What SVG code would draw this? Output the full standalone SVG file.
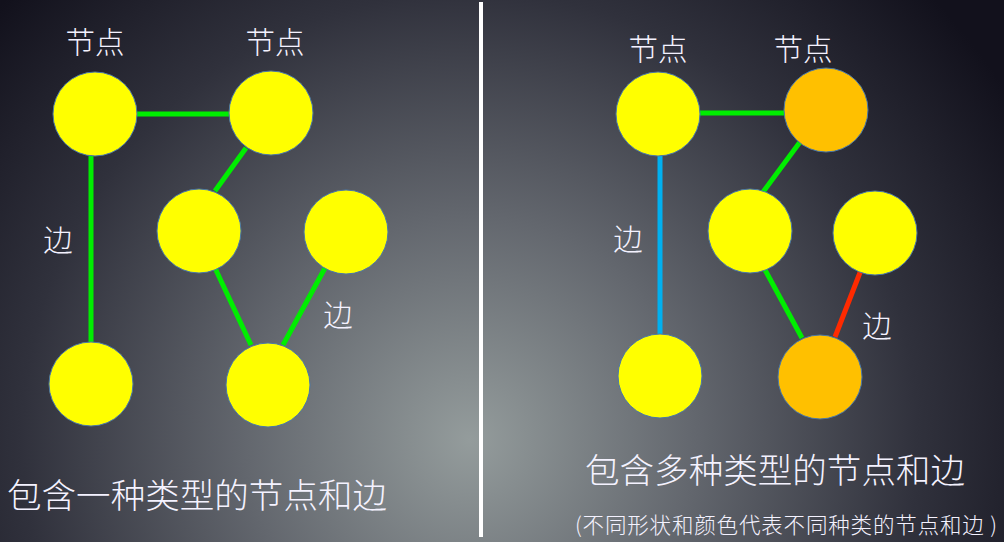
<svg xmlns="http://www.w3.org/2000/svg" width="1004" height="542" viewBox="0 0 1004 542">
<defs>
<radialGradient id="bg" gradientUnits="userSpaceOnUse" cx="470" cy="440" r="640">
<stop offset="0" stop-color="#949c9c"/>
<stop offset="0.35" stop-color="#63676e"/>
<stop offset="0.7" stop-color="#30313c"/>
<stop offset="1" stop-color="#12111c"/>
</radialGradient>
<style>
.n{stroke:#4a78a8;stroke-width:1}
.y{fill:#ffff00}
.o{fill:#ffc000}
.e{stroke-width:5;fill:none}
.g{stroke:#00ee00}
.b{stroke:#00b0f0}
.r{stroke:#ff2a00}
.t{fill:#f4f2ff;font-family:"Noto Sans CJK SC","Noto Sans",sans-serif;font-weight:300}
.l{font-size:29.5px;text-anchor:middle}
</style>
</defs>
<rect width="1004" height="542" fill="url(#bg)"/>
<rect x="479" y="2" width="4" height="535" fill="#ffffff"/>
<g id="connectors">
<line class="e g" x1="137" y1="114" x2="229" y2="114"/>
<line class="e g" x1="91" y1="156" x2="91" y2="342"/>
<line class="e g" x1="246" y1="148" x2="215" y2="191"/>
<line class="e g" x1="215" y1="268" x2="251" y2="345"/>
<line class="e g" x1="325" y1="268" x2="283" y2="345"/>
<line class="e g" x1="700" y1="113" x2="784" y2="113"/>
<line class="e b" x1="660" y1="156" x2="660" y2="334"/>
<line class="e g" x1="800" y1="142" x2="763" y2="192"/>
<line class="e g" x1="764" y1="268" x2="802" y2="338"/>
<line class="e r" x1="861" y1="270" x2="835" y2="337"/>
</g>
<g id="nodeA"><circle class="n y" cx="95" cy="114" r="42"/></g>
<g id="nodeB"><circle class="n y" cx="271" cy="113" r="42"/></g>
<g id="nodeC"><circle class="n y" cx="199" cy="231" r="42"/></g>
<g id="nodeD"><circle class="n y" cx="346" cy="232" r="42"/></g>
<g id="nodeE"><circle class="n y" cx="91" cy="384" r="42"/></g>
<g id="nodeF"><circle class="n y" cx="268" cy="385" r="42"/></g>
<g id="nodeG"><circle class="n y" cx="658" cy="114" r="42"/></g>
<g id="nodeH"><circle class="n o" cx="826" cy="110" r="42"/></g>
<g id="nodeI"><circle class="n y" cx="750" cy="231" r="42"/></g>
<g id="nodeJ"><circle class="n y" cx="875" cy="233" r="42"/></g>
<g id="nodeK"><circle class="n y" cx="660" cy="376" r="42"/></g>
<g id="nodeL"><circle class="n o" cx="820" cy="377" r="42"/></g>
<g id="labels">
<text class="t l" x="95" y="53">节点</text>
<text class="t l" x="275" y="53">节点</text>
<text class="t l" x="58" y="251">边</text>
<text class="t l" x="338" y="326">边</text>
<text class="t l" x="658" y="60">节点</text>
<text class="t l" x="803" y="60">节点</text>
<text class="t l" x="628" y="250">边</text>
<text class="t l" x="877" y="337">边</text>
<text class="t" x="7" y="508" font-size="34.5" textLength="380">包含一种类型的节点和边</text>
<text class="t" x="585" y="483" font-size="34.5" textLength="380">包含多种类型的节点和边</text>
<text class="t" x="575" y="533" font-size="21.5" textLength="422">(不同形状和颜色代表不同种类的节点和边 )</text>
</g>
</svg>
